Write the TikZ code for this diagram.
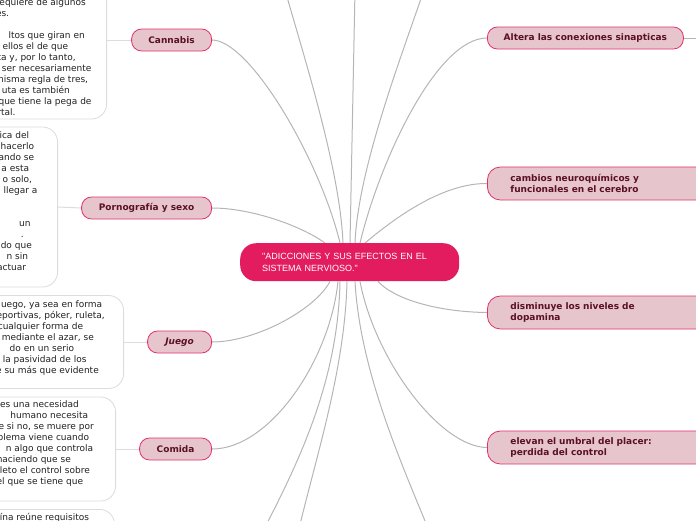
\documentclass[tikz,border=0pt]{standalone}
\usepackage{fontspec}
\usetikzlibrary{backgrounds}
\setmainfont{DejaVu Sans}
\newfontfamily\titlefont{Liberation Sans}
\definecolor{pinkfill}{HTML}{E6C6CC}
\definecolor{pinkborder}{HTML}{E2306A}
\definecolor{textdark}{HTML}{5B1024}
\definecolor{centerfill}{HTML}{E31C5F}
\definecolor{linegray}{HTML}{B5B5B5}
\definecolor{boxborder}{HTML}{DCDCDC}
\definecolor{bodycol}{HTML}{222222}
\newcommand\bodyline[4]{\node[bodytext] (#1) at (#2,#3) {#4};}
\begin{document}
\begin{tikzpicture}[x=1pt,y=-1pt,
  conn/.style={draw=linegray, line width=1pt},
  pill/.style={draw=pinkborder, line width=0.8pt, fill=pinkfill, rounded corners=10pt,
    minimum height=22pt, inner sep=0pt, font=\fontsize{9}{11}\selectfont\bfseries, text=textdark},
  widepill/.style={pill, rounded corners=13pt, anchor=west, minimum width=240pt, minimum height=33pt,
    text width=194pt, align=left, inner xsep=23pt},
  textbox/.style={draw=boxborder, line width=0.8pt, fill=white, rounded corners=15pt, inner sep=0pt,
    minimum width=220pt},
  bodytext/.style={font=\fontsize{9}{11}\selectfont, text=bodycol, inner sep=0pt, anchor=base east}]
\useasboundingbox (0,0) rectangle (696,520);
\clip (0,0) rectangle (696,520);

% central node
\node[fill=centerfill, rounded corners=16pt, minimum width=219pt, minimum height=38pt,
  anchor=north west, inner xsep=22pt, inner ysep=0pt, text width=175pt, align=left,
  text=white, font=\titlefont\fontsize{9}{12}\selectfont] (center) at (240,243)
  {"ADICCIONES Y SUS EFECTOS EN EL\\SISTEMA NERVIOSO."};

% off-page ends
\coordinate (up1) at (285,-10);
\coordinate (up2) at (355,-10);
\coordinate (up3) at (424,-10);
\coordinate (down1) at (262,533);
\coordinate (down2) at (298,533);
\coordinate (down3) at (430,533);
\coordinate (alteraR) at (702,38);

% left nodes
\node[pill, anchor=east, minimum width=80pt] (cannabis) at (212,40) {Cannabis};
\node[pill, anchor=east, minimum width=130pt] (porno) at (212,208) {Pornografía y sexo};
\node[pill, anchor=east, minimum width=64pt, font=\fontsize{9}{11}\selectfont\bfseries\itshape] (juego) at (212,342) {Juego};
\node[pill, anchor=east, minimum width=72pt] (comida) at (212,449) {Comida};

% right nodes
\node[pill, anchor=west, minimum width=196pt] (altera) at (487,38) {Altera las conexiones sinapticas};
\node[widepill] (cambios) at (487,183.5) {cambios neuroquímicos y\\funcionales en el cerebro};
\node[widepill] (dismin) at (487,312.5) {disminuye los niveles de\\dopamina};
\node[widepill] (elevan) at (487,447.5) {elevan el umbral del placer:\\perdida del control};

% text boxes
\node[textbox, anchor=east, minimum height=158pt] (box1) at (107,40) {};
\node[textbox, anchor=east, minimum height=160pt] (box2) at (58,207) {};
\node[textbox, anchor=east, minimum height=93pt] (box3) at (124,342) {};
\node[textbox, anchor=east, minimum height=104pt] (box4) at (116,449) {};
\node[textbox, anchor=north east, minimum height=80pt] (box5) at (115,509) {};

% connectors
\begin{scope}[on background layer]
\draw[conn] ([xshift=100pt]center.north west) .. controls (320,160) and (250,40) .. (cannabis.east);
\draw[conn] ([xshift=85pt]center.north west) .. controls (300,225) and (250,208) .. (porno.east);
\draw[conn] ([xshift=103pt]center.north west) .. controls (340,170) and (305,60) .. (up1);
\draw[conn] ([xshift=110pt]center.north west) -- (up2);
\draw[conn] ([xshift=115pt]center.north west) .. controls (358,170) and (400,60) .. (up3);
\draw[conn] ([xshift=120pt]center.north west) .. controls (380,160) and (437,38) .. (altera.west);
\draw[conn] ([xshift=125pt]center.north west) .. controls (390,222) and (440,183) .. (cambios.west);
\draw[conn] ([xshift=90pt]center.south west) .. controls (315,310) and (255,342) .. (juego.east);
\draw[conn] ([xshift=98pt]center.south west) .. controls (330,360) and (270,449) .. (comida.east);
\draw[conn] ([xshift=100pt]center.south west) .. controls (338,380) and (300,460) .. (down1);
\draw[conn] ([xshift=107pt]center.south west) .. controls (345,370) and (315,460) .. (down2);
\draw[conn] ([xshift=115pt]center.south west) .. controls (360,370) and (400,460) .. (down3);
\draw[conn] ([xshift=120pt]center.south west) .. controls (375,360) and (440,447) .. (elevan.west);
\draw[conn] ([xshift=138pt]center.south west) .. controls (395,300) and (440,312) .. (dismin.west);
\draw[conn] (altera.east) -- (alteraR);
\draw[conn, draw=boxborder] (box1.east) -- (cannabis.west);
\draw[conn, draw=boxborder] (box2.east) -- (porno.west);
\draw[conn, draw=boxborder] (box3.east) -- (juego.west);
\draw[conn, draw=boxborder] (box4.east) -- (comida.west);
\end{scope}

% box 1 text
\bodyline{a1}{86}{5.8}{equiere de algunos}
\bodyline{a2}{9.3}{16.8}{es.}
\bodyline{a3}{85}{38.8}{ltos que giran en}
\bodyline{a4}{68.3}{49.8}{ellos el de que}
\bodyline{a5}{76}{60.8}{ta y, por lo tanto,}
\bodyline{a6}{91.7}{71.8}{ser necesariamente}
\bodyline{a7}{88.3}{82.8}{nisma regla de tres,}
\bodyline{a8}{70}{93.8}{uta es también}
\bodyline{a9}{91.7}{104.8}{que tiene la pega de}
\bodyline{a10}{15.7}{115.8}{rtal.}
% box 2 text
\bodyline{b1}{29.3}{138.7}{ica del}
\bodyline{b2}{34.3}{149.7}{hacerlo}
\bodyline{b3}{34.3}{160.7}{ando se}
\bodyline{b4}{29.3}{171.7}{a esta}
\bodyline{b5}{32.3}{182.7}{a o solo,}
\bodyline{b6}{37.7}{193.7}{llegar a}
\bodyline{b7}{30.7}{226.7}{un}
\bodyline{b8}{24}{237.7}{.}
\bodyline{b9}{32}{248.7}{do que}
\bodyline{b10}{28.3}{259.7}{n sin}
\bodyline{b11}{26.3}{270.7}{actuar}
% box 3 text
\bodyline{c1}{102.3}{307.3}{uego, ya sea en forma}
\bodyline{c2}{105}{318.3}{eportivas, póker, ruleta,}
\bodyline{c3}{83.3}{329.3}{cualquier forma de}
\bodyline{c4}{94}{340.3}{mediante el azar, se}
\bodyline{c5}{74.3}{351.3}{do en un serio}
\bodyline{c6}{86.7}{362.3}{la pasividad de los}
\bodyline{c7}{99}{373.3}{e su más que evidente}
% box 4 text
\bodyline{d1}{79}{407.7}{es una necesidad}
\bodyline{d2}{88.3}{418.7}{humano necesita}
\bodyline{d3}{94}{429.7}{e si no, se muere por}
\bodyline{d4}{89.3}{440.7}{blema viene cuando}
\bodyline{d5}{93.3}{451.7}{n algo que controla}
\bodyline{d6}{71}{462.7}{haciendo que se}
\bodyline{d7}{90}{473.7}{leto el control sobre}
\bodyline{d8}{83.3}{484.7}{el que se tiene que}
% box 5 text
\bodyline{e1}{89.3}{520.3}{ína reúne requisitos}
\end{tikzpicture}
\end{document}
